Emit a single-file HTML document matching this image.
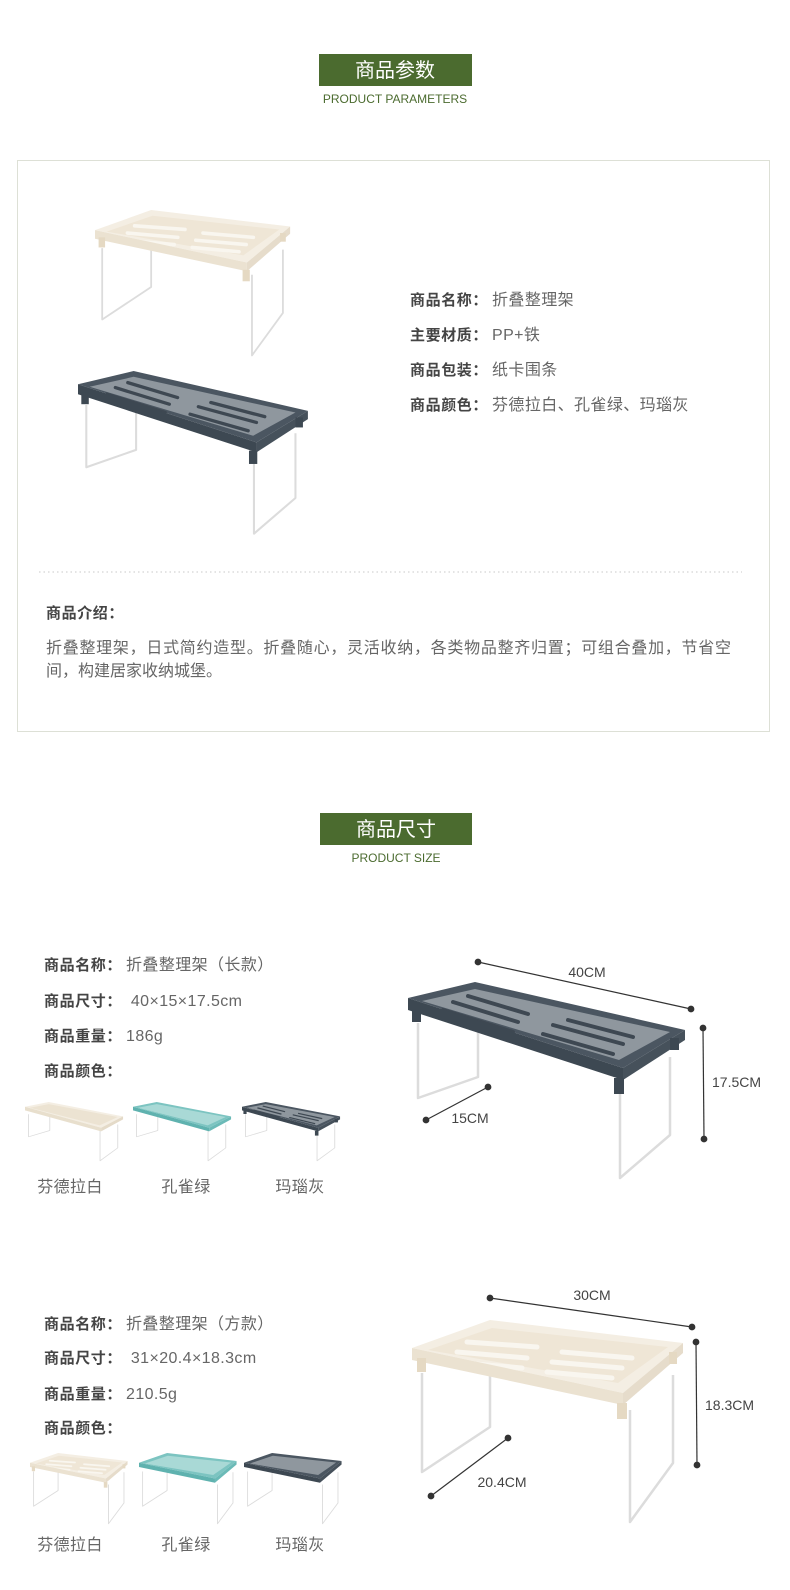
<!DOCTYPE html>
<html><head><meta charset="utf-8"><style>
html,body{margin:0;padding:0;background:#fff;}
svg{display:block;}
text{font-family:"Liberation Sans","Noto Sans CJK SC",sans-serif;}
.lb{font-size:15px;font-weight:bold;fill:#444;letter-spacing:0.6px;}
.vl{font-size:16px;fill:#666;letter-spacing:0.4px;}
.pg{font-size:16px;fill:#666;}
.dm{font-size:14px;fill:#444;}
.leg{fill:none;stroke:#dcdcdc;stroke-width:2.5;stroke-linejoin:round;}
</style></head><body>
<svg width="790" height="1590" viewBox="0 0 790 1590" xmlns="http://www.w3.org/2000/svg">
<defs>
<g id="longdark">
  <polyline class="leg" points="10,41 10,116 70,95 70,45"/>
  <polyline class="leg" points="212,91 212,196 262,153 262,75"/>
  <polygon points="0,16 67,0 277,48 215,86" fill="#4b5661"/>
  <polygon points="14,19 67,7 262,50 211,78" fill="#8f979e"/>
  <g stroke="#3e4852" stroke-width="4" stroke-linecap="round">
    <line x1="45" y1="20" x2="110" y2="40"/><line x1="35" y1="28" x2="105" y2="50"/><line x1="60" y1="14" x2="120" y2="32"/>
    <line x1="145" y1="43" x2="215" y2="62"/><line x1="135" y1="52" x2="205" y2="72"/><line x1="160" y1="38" x2="225" y2="55"/>
  </g>
  <polygon points="0,16 215,86 215,98 0,28" fill="#3d4852"/>
  <polygon points="215,86 277,48 277,58 215,98" fill="#46515b"/>
  <rect x="4" y="26" width="9" height="14" fill="#3d4852"/>
  <rect x="206" y="96" width="10" height="16" fill="#3d4852"/>
  <rect x="262" y="56" width="9" height="12" fill="#3d4852"/>
</g>
<g id="sqcream">
  <polyline class="leg" points="10,53 10,152 78,107 78,53"/>
  <polyline class="leg" points="218,90 218,202 261,143 261,55"/>
  <polygon points="0,28 78,0 271,23 211,73" fill="#f4eee3"/>
  <polygon points="16,30 80,8 256,27 206,63" fill="#efe6d6"/>
  <g stroke="#f9f6ef" stroke-width="5" stroke-linecap="round">
    <line x1="55" y1="22" x2="125" y2="27"/><line x1="45" y1="32" x2="115" y2="38"/><line x1="40" y1="42" x2="110" y2="48"/>
    <line x1="150" y1="32" x2="220" y2="38"/><line x1="140" y1="42" x2="210" y2="48"/><line x1="135" y1="52" x2="200" y2="58"/>
  </g>
  <polygon points="0,28 211,73 211,85 0,40" fill="#ebe2d1"/>
  <polygon points="211,73 271,23 271,33 211,85" fill="#e6dccb"/>
  <rect x="5" y="38" width="9" height="14" fill="#e5d9c3"/>
  <rect x="205" y="83" width="10" height="16" fill="#e5d9c3"/>
  <rect x="257" y="32" width="8" height="12" fill="#e5d9c3"/>
</g>
<g id="longcream">
  <polyline class="leg" points="10,41 10,116 70,95 70,45"/>
  <polyline class="leg" points="212,91 212,196 262,153 262,75"/>
  <polygon points="0,16 67,0 277,48 215,86" fill="#f4eee3"/>
  <polygon points="14,19 67,7 262,50 211,78" fill="#ece3d2"/>
  <polygon points="0,16 215,86 215,98 0,28" fill="#e8dfcd"/>
  <polygon points="215,86 277,48 277,58 215,98" fill="#e4dac8"/>
</g>
<g id="longteal">
  <polyline class="leg" points="10,41 10,116 70,95 70,45"/>
  <polyline class="leg" points="212,91 212,196 262,153 262,75"/>
  <polygon points="0,16 67,0 277,48 215,86" fill="#7cc4c1"/>
  <polygon points="14,19 67,7 262,50 211,78" fill="#a9d9d6"/>
  <polygon points="0,16 215,86 215,98 0,28" fill="#5fb2af"/>
  <polygon points="215,86 277,48 277,58 215,98" fill="#6bbab7"/>
</g>
<g id="sqteal">
  <polyline class="leg" points="10,53 10,152 78,107 78,53"/>
  <polyline class="leg" points="218,90 218,202 261,143 261,55"/>
  <polygon points="0,28 78,0 271,23 211,73" fill="#7cc4c1"/>
  <polygon points="16,30 80,8 256,27 206,63" fill="#a9d9d6"/>
  <polygon points="0,28 211,73 211,85 0,40" fill="#5fb2af"/>
  <polygon points="211,73 271,23 271,33 211,85" fill="#6bbab7"/>
</g>
<g id="sqdark">
  <polyline class="leg" points="10,53 10,152 78,107 78,53"/>
  <polyline class="leg" points="218,90 218,202 261,143 261,55"/>
  <polygon points="0,28 78,0 271,23 211,73" fill="#4b5661"/>
  <polygon points="16,30 80,8 256,27 206,63" fill="#8f979e"/>
  <polygon points="0,28 211,73 211,85 0,40" fill="#3d4852"/>
  <polygon points="211,73 271,23 271,33 211,85" fill="#46515b"/>
</g>
</defs>

<!-- Header 1 -->
<rect x="319" y="54" width="153" height="32" fill="#4b6b2f"/>
<text x="395" y="77" text-anchor="middle" font-size="20" fill="#fff">商品参数</text>
<text x="395" y="103" text-anchor="middle" font-size="12" fill="#4b6b2f">PRODUCT PARAMETERS</text>

<!-- Box -->
<rect x="17.5" y="160.5" width="752" height="571" fill="none" stroke="#dde0d6" stroke-width="1"/>
<use href="#sqcream" transform="translate(95,210) scale(0.72)"/>
<use href="#longdark" transform="translate(78,371) scale(0.83)"/>

<text x="410" y="305"><tspan class="lb">商品名称：</tspan><tspan class="vl" dx="4">折叠整理架</tspan></text>
<text x="410" y="340"><tspan class="lb">主要材质：</tspan><tspan class="vl" dx="4">PP+铁</tspan></text>
<text x="410" y="375"><tspan class="lb">商品包装：</tspan><tspan class="vl" dx="4">纸卡围条</tspan></text>
<text x="410" y="410"><tspan class="lb">商品颜色：</tspan><tspan class="vl" dx="4">芬德拉白、孔雀绿、玛瑙灰</tspan></text>

<line x1="39" y1="572" x2="742" y2="572" stroke="#c8c8c8" stroke-width="1" stroke-dasharray="1.5,3"/>
<text x="46" y="618" class="lb">商品介绍：</text>
<text x="46" y="653" class="pg" textLength="685" lengthAdjust="spacing">折叠整理架，日式简约造型。折叠随心，灵活收纳，各类物品整齐归置；可组合叠加，节省空</text>
<text x="46" y="676" class="pg" textLength="176" lengthAdjust="spacing">间，构建居家收纳城堡。</text>

<!-- Header 2 -->
<rect x="320" y="813" width="152" height="32" fill="#4b6b2f"/>
<text x="396" y="836" text-anchor="middle" font-size="20" fill="#fff">商品尺寸</text>
<text x="396" y="862" text-anchor="middle" font-size="12" fill="#4b6b2f">PRODUCT SIZE</text>

<!-- Section 2 -->
<text x="44" y="970"><tspan class="lb">商品名称：</tspan><tspan class="vl" dx="4">折叠整理架（长款）</tspan></text>
<text x="44" y="1006"><tspan class="lb">商品尺寸：</tspan><tspan class="vl" dx="4"> 40×15×17.5cm</tspan></text>
<text x="44" y="1041"><tspan class="lb">商品重量：</tspan><tspan class="vl" dx="4">186g</tspan></text>
<text x="44" y="1076"><tspan class="lb">商品颜色：</tspan></text>
<use href="#longcream" transform="translate(25,1102) scale(0.354,0.3)"/>
<use href="#longteal" transform="translate(133,1102) scale(0.354,0.3)"/>
<use href="#longdark" transform="translate(242,1102) scale(0.354,0.3)"/>
<text x="70" y="1192" text-anchor="middle" class="vl">芬德拉白</text>
<text x="186" y="1192" text-anchor="middle" class="vl">孔雀绿</text>
<text x="300" y="1192" text-anchor="middle" class="vl">玛瑙灰</text>

<use href="#longdark" transform="translate(408,982)"/>
<g stroke="#333" stroke-width="1.2" fill="#333">
  <line x1="478" y1="962" x2="691" y2="1009"/><circle cx="478" cy="962" r="2.8"/><circle cx="691" cy="1009" r="2.8"/>
  <line x1="703" y1="1028" x2="704" y2="1139"/><circle cx="703" cy="1028" r="2.8"/><circle cx="704" cy="1139" r="2.8"/>
  <line x1="426" y1="1120" x2="488" y2="1087"/><circle cx="426" cy="1120" r="2.8"/><circle cx="488" cy="1087" r="2.8"/>
</g>
<text x="587" y="977" text-anchor="middle" class="dm">40CM</text>
<text x="712" y="1087" class="dm">17.5CM</text>
<text x="470" y="1123" text-anchor="middle" class="dm">15CM</text>

<!-- Section 3 -->
<text x="44" y="1329"><tspan class="lb">商品名称：</tspan><tspan class="vl" dx="4">折叠整理架（方款）</tspan></text>
<text x="44" y="1363"><tspan class="lb">商品尺寸：</tspan><tspan class="vl" dx="4"> 31×20.4×18.3cm</tspan></text>
<text x="44" y="1399"><tspan class="lb">商品重量：</tspan><tspan class="vl" dx="4">210.5g</tspan></text>
<text x="44" y="1433"><tspan class="lb">商品颜色：</tspan></text>
<use href="#sqcream" transform="translate(30,1453) scale(0.36,0.35)"/>
<use href="#sqteal" transform="translate(139,1453) scale(0.36,0.35)"/>
<use href="#sqdark" transform="translate(244,1453) scale(0.36,0.35)"/>
<text x="70" y="1550" text-anchor="middle" class="vl">芬德拉白</text>
<text x="186" y="1550" text-anchor="middle" class="vl">孔雀绿</text>
<text x="300" y="1550" text-anchor="middle" class="vl">玛瑙灰</text>

<use href="#sqcream" transform="translate(412,1320)"/>
<g stroke="#333" stroke-width="1.2" fill="#333">
  <line x1="490" y1="1298" x2="692" y2="1327"/><circle cx="490" cy="1298" r="2.8"/><circle cx="692" cy="1327" r="2.8"/>
  <line x1="696" y1="1342" x2="697" y2="1465"/><circle cx="696" cy="1342" r="2.8"/><circle cx="697" cy="1465" r="2.8"/>
  <line x1="431" y1="1496" x2="508" y2="1438"/><circle cx="431" cy="1496" r="2.8"/><circle cx="508" cy="1438" r="2.8"/>
</g>
<text x="592" y="1300" text-anchor="middle" class="dm">30CM</text>
<text x="705" y="1410" class="dm">18.3CM</text>
<text x="502" y="1487" text-anchor="middle" class="dm">20.4CM</text>
</svg>
</body></html>
